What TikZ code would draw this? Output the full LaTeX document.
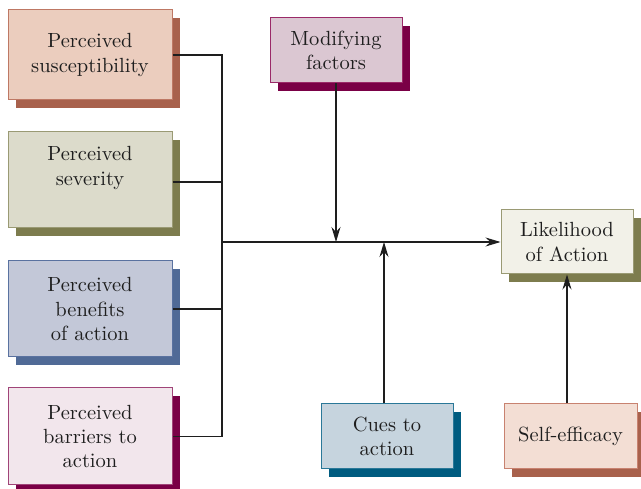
\documentclass[tikz,border=0pt]{standalone}
\usepackage{fontspec}
\setmainfont{lmroman10-regular}[Extension=.otf]
\usetikzlibrary{shadows,arrows.meta}

% box palettes: fill, border, shadow
\definecolor{suscFill}{HTML}{EBCDBE}\definecolor{suscLine}{HTML}{BE7864}\definecolor{rust}{HTML}{A8614C}
\definecolor{sevFill}{HTML}{DCDBCB}\definecolor{sevLine}{HTML}{9A9A74}\definecolor{olive}{HTML}{7D7C4E}
\definecolor{benFill}{HTML}{C3C8D8}\definecolor{benLine}{HTML}{5A72A0}\definecolor{slate}{HTML}{506A96}
\definecolor{barFill}{HTML}{F2E6EC}\definecolor{barLine}{HTML}{A04478}\definecolor{plum}{HTML}{7A0046}
\definecolor{modFill}{HTML}{DBC7D2}\definecolor{modLine}{HTML}{9A2A68}
\definecolor{likeFill}{HTML}{F2F1E8}\definecolor{likeLine}{HTML}{9A9A74}
\definecolor{cueFill}{HTML}{C6D4DE}\definecolor{cueLine}{HTML}{2A7898}\definecolor{teal}{HTML}{005C80}
\definecolor{selfFill}{HTML}{F3DED4}\definecolor{selfLine}{HTML}{C88270}
\definecolor{ink}{HTML}{1E1E1E}

\tikzset{
  factor/.style n args={3}{draw=#2, fill=#1, line width=1pt,
    general shadow={fill=#3, shadow xshift=8pt, shadow yshift=-8pt},
    align=center, text=ink, inner sep=0pt,
    font=\fontsize{20.5}{24.5}\selectfont},
  label text/.style={align=center, text=ink, inner sep=0pt,
    font=\fontsize{20.5}{24.5}\selectfont},
  link/.style={draw=ink, line width=1.1pt},
  arr/.style={link, -{Stealth[length=15pt,width=9pt,inset=5pt]}},
}

\begin{document}
\begin{tikzpicture}[x=1pt,y=-1pt]
\useasboundingbox (0,0) rectangle (641,489);

% left-hand column of perceptions
\node[factor={suscFill}{suscLine}{rust}, minimum width=164pt, minimum height=90pt]
  (susc) at (90,55) {Perceived\\susceptibility};
\node[factor={sevFill}{sevLine}{olive}, minimum width=164pt, minimum height=96pt]
  (sev) at (90,180) {};
\node[label text] (sevtext) at (90,168) {Perceived\\severity};
\node[factor={benFill}{benLine}{slate}, minimum width=164pt, minimum height=96pt]
  (ben) at (90,309) {Perceived\\benefits\\of action};
\node[factor={barFill}{barLine}{plum}, minimum width=164pt, minimum height=97pt]
  (bar) at (90,436.5) {Perceived\\barriers to\\action};

% other influences and outcome
\node[factor={modFill}{modLine}{plum}, minimum width=132pt, minimum height=65pt]
  (mod) at (336,50.5) {Modifying\\factors};
\node[factor={likeFill}{likeLine}{olive}, minimum width=132pt, minimum height=64pt]
  (like) at (567,242) {Likelihood\\of Action};
\node[factor={cueFill}{cueLine}{teal}, minimum width=132pt, minimum height=65pt]
  (cue) at (387,436.5) {Cues to\\action};
\node[factor={selfFill}{selfLine}{rust}, minimum width=133pt, minimum height=65pt]
  (self) at (570.5,436.5) {Self-efficacy};

% collecting bus
\coordinate (bus) at (222,242);

\draw[link] (susc.east) -- (susc.east -| bus) -- (bar.east -| bus) -- (bar.east);
\draw[link] (sev.east |- 0,182) -- (bus |- 0,182);
\draw[link] (ben.east) -- (ben.east -| bus);
\draw[arr] (bus) -- (like.west);

\draw[arr] (mod.south) -- (mod.south |- bus);
\draw[arr] ([xshift=-3pt]cue.north) -- ([xshift=-3pt]cue.north |- bus);
\draw[arr] (like.south |- self.north) -- (like.south);
\end{tikzpicture}
\end{document}
